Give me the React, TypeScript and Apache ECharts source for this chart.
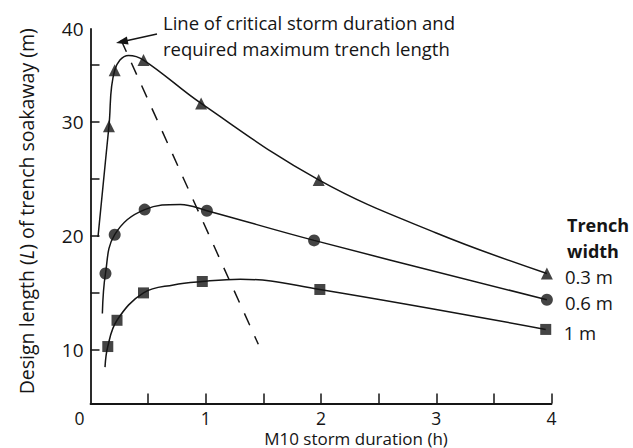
import React, { useEffect, useRef } from 'react';
import * as echarts from 'echarts';

// Axis layout values
const xMin = 0;
const xMax = 4;
const yMin = 5.31;
const yMax = 38.12;
const xLabelValues = [0, 1, 2, 3, 4];
const xTickValues = [0.5, 1, 1.5, 2, 2.5, 3, 3.5, 4];
const yLabelValues = [10, 20, 30];
const yTickValues = [10, 15, 20, 25, 30, 35];
const yTopLabel = '40';

const seriesNames = ['0.3 m', '0.6 m', '1 m'];

// Plotted markers [storm duration (h), design length (m)]
const triMarkers = [[0.16, 29.6], [0.21, 34.5], [0.46, 35.4], [0.96, 31.6], [1.98, 24.9], [3.96, 16.7]];
const cirMarkers = [[0.13, 16.7], [0.21, 20.1], [0.47, 22.3], [1.01, 22.2], [1.94, 19.6], [3.96, 14.4]];
const sqMarkers = [[0.15, 10.3], [0.23, 12.6], [0.46, 15.0], [0.97, 16.0], [1.99, 15.3], [3.95, 11.8]];

// Fitted curves as drawn
const triCurve = [[0.065, 19.9], [0.16, 29.6], [0.21, 34.5], [0.33, 35.8], [0.46, 35.4], [0.96, 31.6], [1.98, 24.9], [3.0, 20.25], [3.96, 16.7]];
const cirCurve = [[0.103, 13.2], [0.13, 16.7], [0.21, 20.1], [0.47, 22.3], [0.78, 22.75], [1.01, 22.2], [1.94, 19.6], [3.96, 14.4]];
const sqCurve = [[0.126, 8.5], [0.15, 10.3], [0.23, 12.6], [0.46, 15.0], [0.72, 15.7], [0.97, 16.0], [1.3, 16.2], [1.99, 15.3], [3.95, 11.8]];

// Line of critical storm duration (dashed)
const criticalLine = [[0.265, 37.16], [1.456, 10.5]];
// Annotation arrow (tail, head)
const arrowTail = [0.577, 37.68];
const arrowHead = [0.272, 37.0];

const INK = '#151515';
const FONT = '"Open Sans", "Noto Sans", sans-serif';

export default function App() {
  const ref = useRef<HTMLDivElement>(null);
  useEffect(() => {
    if (!ref.current) return;
    const chart = echarts.init(ref.current, null, { renderer: 'svg' });
    const markerSeries = (name: string, data: number[][], symbol: string, size: number) => ({
      type: 'scatter',
      name,
      data,
      symbol,
      symbolSize: size,
      itemStyle: { color: INK },
      z: 5,
    });
    const curveSeries = (name: string, data: number[][]) => ({
      type: 'line',
      name,
      data,
      smooth: 0.4,
      symbol: 'none',
      lineStyle: { color: INK, width: 1.5 },
      endLabel: {
        show: true,
        formatter: '{a}',
        distance: 18,
        offset: [0, 3],
        fontFamily: FONT,
        fontSize: 18.5,
        color: INK,
      },
    });
    chart.setOption({
      animation: false,
      backgroundColor: '#ffffff',
      textStyle: { fontFamily: FONT },
      grid: { left: 90.5, right: 81.5, top: 29, bottom: 44.5, containLabel: false, outerBoundsMode: 'none' },
      xAxis: {
        type: 'value',
        min: xMin,
        max: xMax,
        name: 'M10 storm duration (h)',
        nameLocation: 'middle',
        nameGap: 26,
        nameMoveOverlap: false,
        nameTextStyle: { fontFamily: FONT, fontSize: 17, color: INK, padding: [0, 0, 0, 70] },
        splitLine: { show: false },
        axisLine: { lineStyle: { color: INK, width: 1.8 } },
        axisTick: { inside: true, length: 10, customValues: xTickValues, lineStyle: { color: INK, width: 1.5 } },
        axisLabel: {
          customValues: xLabelValues,
          margin: 5,
          fontFamily: FONT,
          fontSize: 17.5,
          color: INK,
          formatter: (v: number) => (v === 0 ? '{z|0}' : String(v)),
          rich: { z: { fontFamily: FONT, fontSize: 17.5, color: INK, padding: [0, 22, 0, 0] } },
        },
      },
      yAxis: {
        type: 'value',
        min: yMin,
        max: yMax,
        name: 'Design length ({i|L}) of trench soakaway (m)',
        nameLocation: 'middle',
        nameGap: 54,
        nameTextStyle: {
          fontFamily: FONT,
          fontSize: 19.5,
          color: INK,
          padding: [0, 0, 0, 10],
          rich: { i: { fontFamily: FONT, fontSize: 19.5, color: INK, fontStyle: 'italic' } },
        },
        splitLine: { show: false },
        axisLine: { lineStyle: { color: INK, width: 1.8 } },
        axisTick: { inside: true, length: 9, customValues: yTickValues, lineStyle: { color: INK, width: 1.5 } },
        axisLabel: {
          customValues: [...yLabelValues, yMax],
          margin: 7,
          fontFamily: FONT,
          fontSize: 19,
          color: INK,
          formatter: (v: number) => (v === yMax ? yTopLabel : String(v)),
        },
      },
      graphic: [
        {
          type: 'text',
          left: 163,
          top: 9,
          style: {
            text: 'Line of critical storm duration and\nrequired maximum trench length',
            fontFamily: FONT,
            fontSize: 18.5,
            lineHeight: 26,
            fill: INK,
          },
        },
        {
          type: 'text',
          left: 567,
          top: 212,
          style: {
            text: 'Trench\nwidth',
            fontFamily: FONT,
            fontSize: 18,
            fontWeight: 'bold',
            lineHeight: 26,
            fill: INK,
          },
        },
      ],
      series: [
        curveSeries(seriesNames[0], triCurve),
        curveSeries(seriesNames[1], cirCurve),
        curveSeries(seriesNames[2], sqCurve),
        markerSeries(seriesNames[0], triMarkers, 'triangle', 12),
        markerSeries(seriesNames[1], cirMarkers, 'circle', 12),
        markerSeries(seriesNames[2], sqMarkers, 'rect', 11),
        {
          type: 'line',
          name: 'critical',
          data: criticalLine,
          symbol: 'none',
          lineStyle: { color: INK, width: 1.5, type: [13, 12] },
          markLine: {
            silent: true,
            symbol: ['none', 'triangle'],
            symbolSize: [8, 12],
            label: { show: false },
            lineStyle: { color: INK, width: 1.5, type: 'solid' },
            itemStyle: { color: INK },
            data: [[{ coord: arrowTail }, { coord: arrowHead }]],
          },
        },
      ],
    });
    return () => chart.dispose();
  }, []);
  return <div ref={ref} style={{ position: 'fixed', left: 0, top: 0, width: 633, height: 448, background: '#fff' }} />;
}
